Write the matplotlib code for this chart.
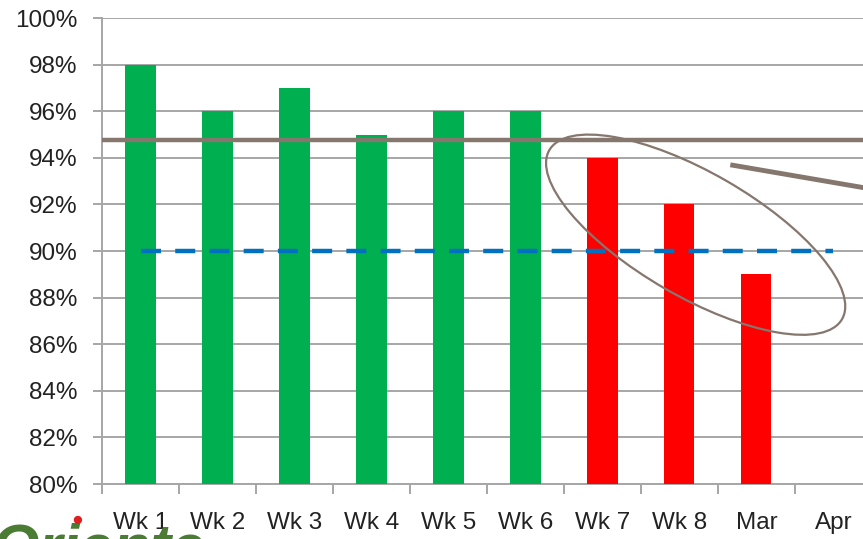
import numpy as np
import matplotlib.pyplot as plt
from matplotlib.patches import Ellipse
from matplotlib.transforms import ScaledTranslation

plt.rcParams['font.family'] = ['Liberation Sans', 'DejaVu Sans']

# weekly / monthly results
categories = ['Wk 1', 'Wk 2', 'Wk 3', 'Wk 4', 'Wk 5', 'Wk 6', 'Wk 7', 'Wk 8', 'Mar', 'Apr']
values = [98, 96, 97, 95, 96, 96, 94, 92, 89]
target = [90] * len(categories)
bar_colors = ['#00B050'] * 6 + ['#FF0000'] * 3

x = np.arange(len(categories))
avg = np.mean(values)

fig = plt.figure(figsize=(8.63, 5.39), dpi=100)
ax = fig.add_axes([0.1182, 0.102, 0.8922, 0.8646])

ax.bar(x[:len(values)], values, width=0.39, color=bar_colors, zorder=3)
ax.axhline(avg, xmin=0.003, color='#85766E', lw=3.2, zorder=4)
ax.plot(x, target, color='#0070C0', lw=3.2, ls=(0, (4.5, 3.2)), zorder=4)

ax.set_xlim(-0.5, len(categories) - 0.5)
ax.set_ylim(80, 100)
ax.set_yticks(np.arange(80, 101, 2))
ax.set_yticklabels([f'{v}%' for v in range(80, 101, 2)])
ax.yaxis.grid(True, color='#A6A6A6', lw=1.4, zorder=0)

ax.set_xticks(x)
ax.set_xticklabels(categories)
ax.set_xticks(np.arange(-0.5, len(categories)), minor=True)
ax.tick_params(axis='x', which='major', length=0, pad=20, labelsize=17.5, colors='#222222')
ax.tick_params(axis='x', which='minor', length=7, width=1.4, color='#A6A6A6')
ax.tick_params(axis='y', length=6.5, width=1.4, color='#A6A6A6', pad=11, labelsize=17.5, labelcolor='#222222')

for side in ['top', 'right']:
    ax.spines[side].set_visible(False)
for side in ['left', 'bottom']:
    ax.spines[side].set_color('#A6A6A6')
    ax.spines[side].set_linewidth(1.4)

# ring around the last three results, with a callout pointer
ring_tr = fig.dpi_scale_trans + ScaledTranslation(7.21, 90.7, ax.transData)
ax.add_patch(Ellipse((0, 0), 3.38, 1.24, angle=-30, transform=ring_tr,
                     fill=False, ec='#85766E', lw=1.6, zorder=5, clip_on=False))
ax.plot([7.66, 9.6], [93.7, 92.6], color='#85766E', lw=3.5, zorder=5,
        solid_capstyle='butt', clip_on=False)

# company logo in the bottom-left corner
fig.text(-0.01, -0.075, 'Oriente', fontsize=44, fontweight='bold', fontstyle='italic',
         color='#4A7C34', ha='left', va='bottom', zorder=1)
fig.text(0.089, 0.035, '\u25cf', fontsize=14, color='#E02020', ha='center', va='center', zorder=2)

fig.savefig('out.png', dpi=100)
